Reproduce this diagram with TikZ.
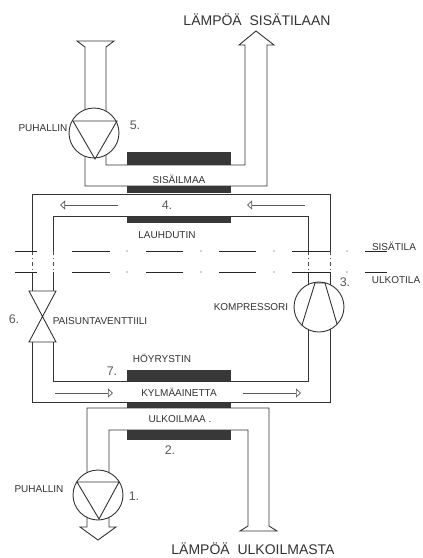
\documentclass[tikz,border=0pt]{standalone}
\usepackage{fontspec}
\setmainfont{Liberation Sans}
\usetikzlibrary{arrows.meta}
\tikzset{
    pipe/.style={line width=0.9pt, black!80},
    thinline/.style={line width=0.7pt, black!70},
    core/.style={fill=black!78, draw=none},
    flowarrow/.style={line width=0.7pt, black!65, -{Triangle[open, length=5pt, width=9pt]}},
    heading/.style={font=\fontsize{14}{14}\selectfont, text=black!80, inner sep=0pt},
    partlabel/.style={font=\fontsize{10}{10}\selectfont, text=black!80, inner sep=0pt},
    numlabel/.style={font=\fontsize{12.5}{13}\selectfont, text=black!65, inner sep=0pt},
}
\begin{document}
\begin{tikzpicture}[x=1pt, y=-1pt]
        \useasboundingbox[fill=white] (0,0) rectangle (423,558);

        % Heat exchanger cores
        \fill[core] (127,152) rectangle (231,165);
        \fill[core] (127,186) rectangle (231,193);
        \fill[core] (127,216) rectangle (231,223);
        \fill[core] (127,370) rectangle (231,381);
        \fill[core] (127,402) rectangle (231,408);
        \fill[core] (127,430) rectangle (231,440);

        % Indoor air duct
        \draw[pipe] (85,156) -- (85,186) -- (267,186) -- (267,45) -- (274,45) -- (256,31) -- (239,45) -- (245,45) -- (245,165) -- (106,165) -- (106,155);
        \draw[pipe] (106,111) -- (106,47) -- (114,41) -- (77,41) -- (85,47) -- (85,110);

        % Refrigerant circuit, upper part
        \draw[pipe] (32,251) -- (32,194) -- (330,194) -- (330,251);
        \draw[pipe] (53,251) -- (53,216) -- (308,216) -- (308,251);

        % Refrigerant circuit, lower part
        \draw[pipe] (32,342) -- (32,402) -- (330,402) -- (330,329);
        \draw[pipe] (53,342) -- (53,381) -- (308,381) -- (308,329);

        % Cut through the wall
        \foreach \xpos in {32,53,308,330}
            \draw[thinline, dash pattern=on 4pt off 3pt on 1pt off 3pt] (\xpos,251) -- (\xpos,272);
        \draw[pipe] (32,272) -- (32,291);
        \draw[pipe] (53,272) -- (53,291);
        \draw[pipe] (308,272) -- (308,285);
        \draw[pipe] (330,272) -- (330,285);

        % Wall lines
        \foreach \ypos in {251,272} {
            \foreach \xa/\xb in {15/37, 72/110, 146/183, 219/256, 292/330, 365/387}
                \draw[thinline, black!85] (\xa,\ypos) -- (\xb,\ypos);
            \foreach \xa in {127,201,274,347}
                \fill[black!35] (\xa,\ypos) circle (0.8pt);
        }

        % Expansion valve
        \draw[pipe] (29,291) -- (56,291) -- (29,342) -- (56,342) -- cycle;

        % Compressor
        \node[circle, draw, pipe, minimum size=50pt, inner sep=0pt] (compressor) at (319,307) {};
        \draw[pipe] (302,325) -- (315,283) -- (325,283) -- (337,324);

        % Upper fan
        \node[circle, draw, pipe, minimum size=50pt, inner sep=0pt] (fanin) at (94,133) {};
        \draw[pipe] (73,121) -- (117,121) -- (95,159) -- cycle;

        % Outdoor air duct
        \draw[pipe] (87,473) -- (87,408) -- (269,408) -- (269,526) -- (277,531) -- (240,531) -- (248,526) -- (248,430) -- (109,430) -- (109,473);
        \draw[pipe] (87,517) -- (87,527) -- (80,527) -- (98,540) -- (116,527) -- (109,527) -- (109,517);

        % Lower fan
        \node[circle, draw, pipe, minimum size=50pt, inner sep=0pt] (fanout) at (98,495) {};
        \draw[pipe] (77,482) -- (119,482) -- (99,519) -- cycle;

        % Flow arrows
        \coordinate (flowa) at (118,205);
        \coordinate (flowb) at (60,205);
        \coordinate (flowc) at (305,205);
        \coordinate (flowd) at (247,205);
        \coordinate (flowe) at (55,393);
        \coordinate (flowf) at (113,393);
        \coordinate (flowg) at (243,393);
        \coordinate (flowh) at (301,393);
        \draw[flowarrow] (flowa) -- (flowb);
        \draw[flowarrow] (flowc) -- (flowd);
        \draw[flowarrow] (flowe) -- (flowf);
        \draw[flowarrow] (flowg) -- (flowh);

        % Headings
        \node[heading] (heatin) at (257,20) {LÄMPÖÄ\ \ SISÄTILAAN};
        \node[heading] (heatout) at (253,549) {LÄMPÖÄ\ \ ULKOILMASTA};

        % Part names
        \node[partlabel] (blowerup) at (43,128) {PUHALLIN};
        \node[partlabel] (indoorair) at (179,179) {SISÄILMAA};
        \node[partlabel] (condenser) at (167,235) {LAUHDUTIN};
        \node[partlabel] (indoors) at (394,246) {SISÄTILA};
        \node[partlabel] (outdoors) at (396,280) {ULKOTILA};
        \node[partlabel] (compname) at (251,307) {KOMPRESSORI};
        \node[partlabel] (valvename) at (100,321) {PAISUNTAVENTTIILI};
        \node[partlabel] (evaporator) at (162,358) {HÖYRYSTIN};
        \node[partlabel] (refrigerant) at (179,392) {KYLMÄAINETTA};
        \node[partlabel] (outdoorair) at (180,419) {ULKOILMAA .};
        \node[partlabel] (blowerlow) at (39,489) {PUHALLIN};

        % Numbers
        \node[numlabel] (numone) at (134,496) {1.};
        \node[numlabel] (numtwo) at (170,450) {2.};
        \node[numlabel] (numthree) at (345,282) {3.};
        \node[numlabel] (numfour) at (167,205) {4.};
        \node[numlabel] (numfive) at (135,125) {5.};
        \node[numlabel] (numsix) at (14,319) {6.};
        \node[numlabel] (numseven) at (112,371) {7.};
    \end{tikzpicture}
\end{document}
